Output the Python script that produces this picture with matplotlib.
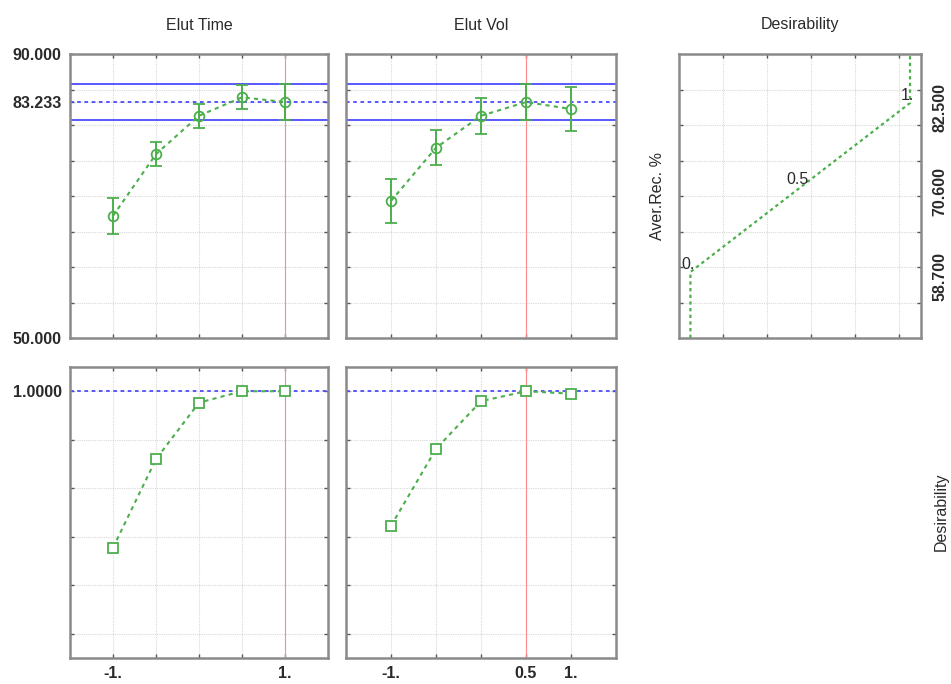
import matplotlib
matplotlib.use('Agg')
import matplotlib.pyplot as plt

plt.rcParams['font.family'] = ['Liberation Sans', 'DejaVu Sans']

# ---- data ----
levels = [-1.0, -0.5, 0.0, 0.5, 1.0]
elut_time_mean = [67.2, 75.9, 81.3, 83.9, 83.233]
elut_time_err = [2.5, 1.7, 1.7, 1.7, 2.5]
elut_vol_mean = [69.3, 76.8, 81.3, 83.233, 82.25]
elut_vol_err = [3.1, 2.5, 2.5, 2.5, 3.1]
elut_time_desir = [0.355, 0.72, 0.953, 1.0, 1.0]
elut_vol_desir = [0.445, 0.762, 0.959, 1.0, 0.99]
current_time = 1.0
current_vol = 0.5
pred_value = 83.233
ci_low, ci_high = 80.73, 85.75
overall_desir = 1.0
desir_profile_d = [0.0, 0.0, 1.0, 1.0]
desir_profile_y = [50.0, 59.3, 83.1, 90.0]
desir_label_d = [0.0, 0.5, 1.0]
desir_label_y = [59.3, 71.2, 83.1]
desir_label_txt = ['0.', '0.5', '1.']
resp_ticks = [55, 60, 65, 70, 75, 80, 85]
resp_labels_right = [82.5, 70.6, 58.7]
x_ticks = [-1.0, -0.5, 0.0, 0.5, 1.0]
d_ticks = [0.15, 0.35, 0.55, 0.75, 0.95]
desir_ticks = [0.0, 0.2, 0.4, 0.6, 0.8, 1.0]

GREEN = '#4caf4c'
BLUE = '#4b4bff'
RED = '#ff8c8c'
SPINE = '#8a8a8a'
GRID = '#d9d9d9'
TXT = '#2a2a2a'

W, H = 951, 684
fig = plt.figure(figsize=(W / 100, H / 100), dpi=100)


def add_ax(x0, y0, x1, y1):
    return fig.add_axes([x0 / W, 1 - y1 / H, (x1 - x0) / W, (y1 - y0) / H])


def style(ax):
    for s in ax.spines.values():
        s.set_color(SPINE)
        s.set_linewidth(1.8)
    ax.tick_params(direction='in', length=3, width=1, color='#555555',
                   top=True, right=True, labelsize=11.5, labelcolor=TXT, pad=6)
    ax.grid(True, color=GRID, linestyle=(0, (1, 1)), linewidth=0.8)
    ax.set_axisbelow(True)


ax_tl = add_ax(70, 54, 328, 338)
ax_tm = add_ax(346, 54, 616, 338)
ax_tr = add_ax(679, 54, 921, 338)
ax_bl = add_ax(70, 367, 328, 658)
ax_bm = add_ax(346, 367, 616, 658)

# top panels
for ax, mean, err, cur in [(ax_tl, elut_time_mean, elut_time_err, current_time),
                           (ax_tm, elut_vol_mean, elut_vol_err, current_vol)]:
    style(ax)
    ax.set_xlim(-1.5, 1.5)
    ax.set_ylim(50, 90)
    ax.set_xticks(x_ticks)
    ax.set_xticklabels([])
    ax.set_yticks(resp_ticks)
    ax.axhline(ci_high, color=BLUE, lw=1.3, zorder=2)
    ax.axhline(ci_low, color=BLUE, lw=1.3, zorder=2)
    ax.axhline(pred_value, color=BLUE, lw=1.3, ls=(0, (2, 2)), zorder=2)
    ax.axvline(cur, color=RED, lw=0.8, zorder=2)
    ax.plot(levels, mean, color=GREEN, lw=1.5, ls=(0, (2, 2)), zorder=3)
    ax.errorbar(levels, mean, yerr=err, fmt='o', mfc='none', mec=GREEN,
                ms=7, mew=1.3, ecolor=GREEN, elinewidth=1.4, capsize=4.5,
                capthick=1.4, zorder=4)

# y labels on top-left
ax_tl.set_yticks([50, 55, 60, 65, 70, 75, 80, 85, 90, pred_value])
ax_tl.set_yticklabels(['50.000', '', '', '', '', '', '', '', '90.000', '83.233'],
                      fontweight='bold')
ax_tm.set_yticklabels([])

# bottom panels
for ax, desir, cur in [(ax_bl, elut_time_desir, current_time),
                       (ax_bm, elut_vol_desir, current_vol)]:
    style(ax)
    ax.set_xlim(-1.5, 1.5)
    ax.set_ylim(-0.1, 1.1)
    ax.set_xticks(x_ticks)
    ax.set_yticks(desir_ticks)
    ax.axhline(overall_desir, color=BLUE, lw=1.3, ls=(0, (2, 2)), zorder=2)
    ax.axvline(cur, color=RED, lw=0.8, zorder=2)
    ax.plot(levels, desir, color=GREEN, lw=1.5, ls=(0, (2, 2)), marker='s',
            mfc='white', mec=GREEN, ms=6.5, mew=1.3, zorder=4)

ax_bl.set_yticklabels(['', '', '', '', '', '1.0000'], fontweight='bold')
ax_bm.set_yticklabels([])
ax_bl.set_xticklabels(['-1.', '', '', '', '1.'], fontweight='bold')
ax_bm.set_xticklabels(['-1.', '', '', '0.5', '1.'], fontweight='bold')

# desirability profile panel
style(ax_tr)
ax_tr.set_xlim(-0.052, 1.05)
ax_tr.set_ylim(50, 90)
ax_tr.set_xticks(d_ticks)
ax_tr.set_xticklabels([])
ax_tr.set_yticks(resp_ticks)
ax_tr.set_yticklabels([])
ax_tr.plot(desir_profile_d, desir_profile_y, color=GREEN, lw=1.6,
           ls=(0, (1.5, 1.5)), zorder=3)
for d, y, t in zip(desir_label_d, desir_label_y, desir_label_txt):
    ax_tr.annotate(t, (d, y), xytext=(-2, 0), textcoords='offset points',
                   ha='center', va='bottom', fontsize=11.5, color=TXT)
for v in resp_labels_right:
    ax_tr.text(1.078, v, f'{v:.3f}', transform=ax_tr.get_yaxis_transform(),
               rotation=90, ha='center', va='center', fontsize=11.5,
               fontweight='bold', color=TXT)
ax_tr.text(-0.088, 0.5, 'Aver.Rec. %', transform=ax_tr.transAxes, rotation=90,
           ha='center', va='center', fontsize=11.5, color=TXT)

# titles
fig.text(199 / W, 1 - 25 / H, 'Elut Time', ha='center', va='center',
         fontsize=11.5, color=TXT)
fig.text(481 / W, 1 - 25 / H, 'Elut Vol', ha='center', va='center',
         fontsize=11.5, color=TXT)
fig.text(800 / W, 1 - 25 / H, 'Desirability', ha='center', va='center',
         fontsize=11.5, color=TXT)
fig.text(941 / W, 1 - 512 / H, 'Desirability', ha='center', va='center',
         rotation=90, fontsize=11.5, color=TXT)

fig.savefig('out.png', dpi=100)
